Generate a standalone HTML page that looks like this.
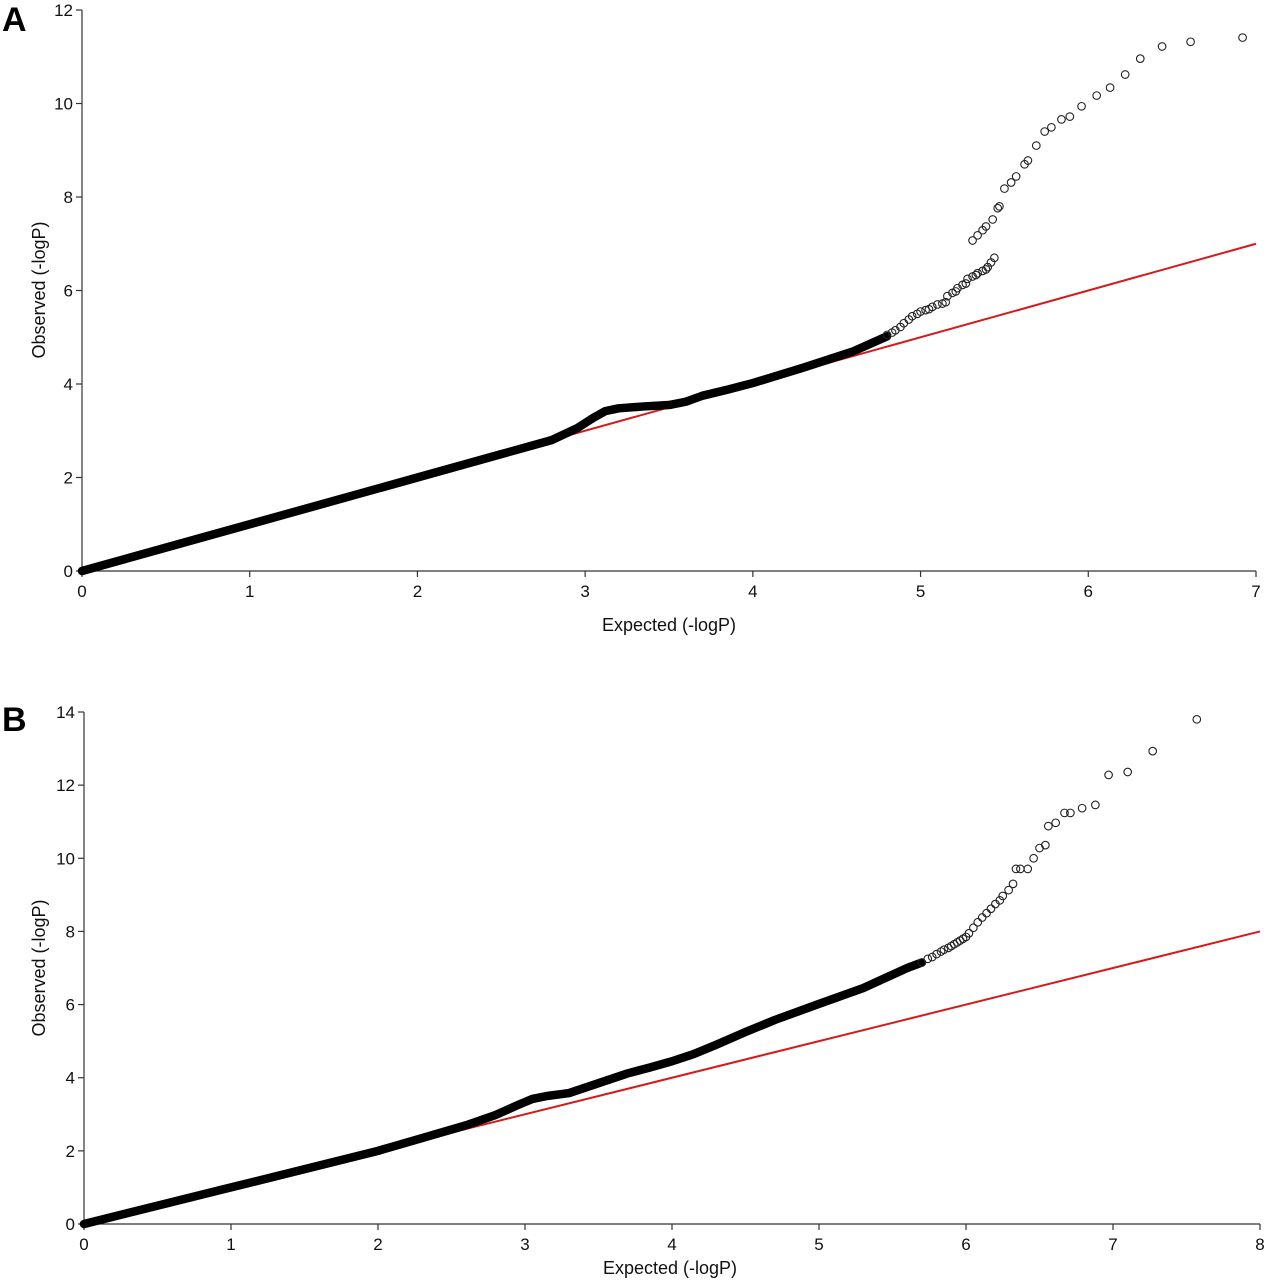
<!DOCTYPE html>
<html><head><meta charset="utf-8">
<style>
body{margin:0;background:#fff;}
svg{display:block;font-family:"Liberation Sans",Arial,sans-serif;}
</style></head>
<body>
<svg id="chart" width="1267" height="1280" viewBox="0 0 1267 1280" xmlns="http://www.w3.org/2000/svg">
<text x="2" y="31" font-size="34" font-weight="bold">A</text>
<text x="2" y="731" font-size="34" font-weight="bold">B</text>
<g id="pa"></g>
<g id="pb"></g>
</svg>
<script>
// Panel A data
const aTicksX = [0,1,2,3,4,5,6,7];
const aTicksY = [0,2,4,6,8,10,12];
const aDenseX = [0,1,2,2.5,2.8,2.95,3.05,3.12,3.2,3.35,3.5,3.6,3.7,3.85,4.0,4.3,4.6,4.8];
const aDenseY = [0,1,2,2.5,2.8,3.05,3.28,3.42,3.48,3.52,3.55,3.62,3.75,3.88,4.02,4.35,4.7,5.02];
const aTailX = [4.8,4.83,4.85,4.88,4.9,4.93,4.95,4.98,5.0,5.03,5.05,5.07,5.1,5.13,5.15,5.16,5.19,5.21,5.22,5.25,5.27,5.28,5.31,5.33,5.34,5.37,5.39,5.40,5.42,5.44,5.31,5.34,5.37,5.39,5.43,5.46,5.47,5.50,5.54,5.57,5.62,5.64,5.69,5.74,5.78,5.84,5.89,5.96,6.05,6.13,6.22,6.31,6.44,6.61,6.92];
const aTailY = [5.05,5.1,5.15,5.22,5.3,5.38,5.45,5.5,5.55,5.58,5.6,5.65,5.7,5.72,5.75,5.88,5.95,5.98,6.05,6.12,6.15,6.25,6.3,6.33,6.37,6.42,6.45,6.5,6.6,6.7,7.07,7.18,7.29,7.37,7.52,7.76,7.80,8.18,8.31,8.44,8.70,8.78,9.10,9.40,9.49,9.66,9.72,9.94,10.17,10.34,10.62,10.96,11.22,11.32,11.41];
// Panel B data
const bTicksX = [0,1,2,3,4,5,6,7,8];
const bTicksY = [0,2,4,6,8,10,12,14];
const bDenseX = [0,1,2,2.3,2.6,2.8,2.95,3.05,3.15,3.3,3.5,3.7,3.85,4.0,4.15,4.3,4.5,4.7,5.0,5.3,5.6,5.7];
const bDenseY = [0,1,2,2.35,2.7,2.98,3.25,3.42,3.5,3.58,3.85,4.12,4.28,4.45,4.65,4.9,5.25,5.58,6.02,6.45,7.0,7.15];
const bTailX = [5.7,5.74,5.77,5.8,5.83,5.85,5.88,5.9,5.92,5.94,5.96,5.98,6.0,6.02,6.05,6.08,6.11,6.14,6.17,6.2,6.23,6.25,6.29,6.32,6.34,6.37,6.42,6.46,6.50,6.54,6.56,6.61,6.67,6.71,6.79,6.88,6.97,7.10,7.27,7.57];
const bTailY = [7.15,7.25,7.3,7.38,7.45,7.5,7.55,7.6,7.65,7.7,7.75,7.8,7.85,7.95,8.1,8.25,8.38,8.5,8.62,8.75,8.85,8.97,9.13,9.30,9.71,9.71,9.71,10.0,10.28,10.36,10.88,10.97,11.24,11.24,11.37,11.46,12.28,12.36,12.93,13.8];

const NS="http://www.w3.org/2000/svg";
function mk(parent,tag,attrs){const e=document.createElementNS(NS,tag);for(const k in attrs)e.setAttribute(k,attrs[k]);parent.appendChild(e);return e;}

function panel(g,cfg,tx,ty,dx,dy,tlx,tly,xmax){
  const sx=v=>cfg.x0+v*(cfg.x1-cfg.x0)/cfg.xmax;
  const sy=v=>cfg.y0-v*(cfg.y0-cfg.y1)/cfg.ymax;
  const ax=mk(g,'path',{d:`M${cfg.x0},${sy(cfg.ymax)}V${cfg.y0}H${sx(cfg.xmax)}`,stroke:'#333',fill:'none','stroke-width':1.2});
  
  
  tx.forEach(v=>{
    mk(g,'line',{x1:sx(v),x2:sx(v),y1:cfg.y0,y2:cfg.y0+6,stroke:'#333','stroke-width':1.2});
    const t=mk(g,'text',{x:sx(v),y:cfg.y0+26,'font-size':17,'text-anchor':'middle',fill:'#111'});
    t.textContent=v;
    
    
  });
  ty.forEach(v=>{
    mk(g,'line',{x1:cfg.x0-6,x2:cfg.x0,y1:sy(v),y2:sy(v),stroke:'#333','stroke-width':1.2});
    const t=mk(g,'text',{x:cfg.x0-9,y:sy(v)+6,'font-size':17,'text-anchor':'end',fill:'#111'});
    t.textContent=v;
    
    
  });
  const xt=mk(g,'text',{x:cfg.xtx,y:cfg.xty,'font-size':18,'text-anchor':'middle',fill:'#111'});
  xt.textContent='Expected (-logP)';
  
  
  const yt=mk(g,'text',{x:0,y:0,'font-size':18,'text-anchor':'middle',fill:'#111',transform:`translate(45,${cfg.yty}) rotate(-90)`});
  yt.textContent='Observed (-logP)';
  
  
  const rl=mk(g,'line',{x1:sx(0),y1:sy(0),x2:sx(xmax),y2:sy(xmax),stroke:'#d41a1a','stroke-width':2});
  
  
  const d=dx.map((v,i)=>(i?'L':'M')+sx(v)+','+sy(dy[i])).join('');
  const p=mk(g,'path',{d:d,stroke:'#000','stroke-width':8.5,fill:'none','stroke-linejoin':'round','stroke-linecap':'round'});
  
  
  tlx.forEach((v,i)=>{
    const c=mk(g,'circle',{cx:sx(v),cy:sy(tly[i]),r:3.8,fill:'none',stroke:'#222','stroke-width':1.1});
    
    
  });
}
panel(document.getElementById('pa'),{x0:82,x1:1256,xmax:7,y0:571,y1:10,ymax:12,xtx:669,xty:631,yty:290},aTicksX,aTicksY,aDenseX,aDenseY,aTailX,aTailY,7);
panel(document.getElementById('pb'),{x0:84,x1:1260,xmax:8,y0:1224,y1:712,ymax:14,xtx:670,xty:1274,yty:968},bTicksX,bTicksY,bDenseX,bDenseY,bTailX,bTailY,8);
</script>
</body></html>
